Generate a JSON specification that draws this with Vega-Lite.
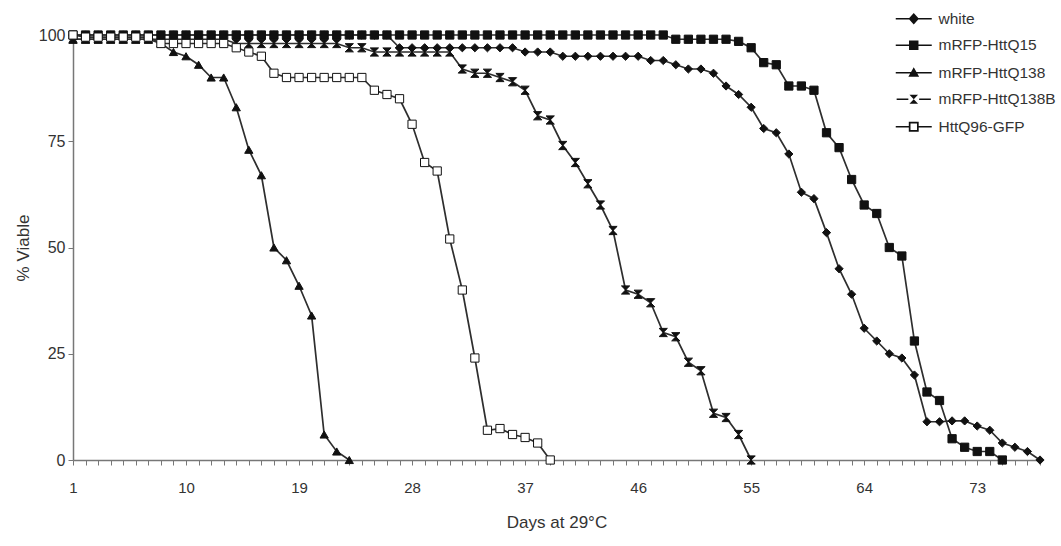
{
"$schema": "https://vega.github.io/schema/vega-lite/v6.json",
"width": 967, "height": 425,
"autosize": "none",
"padding": {"left": 73, "top": 35, "right": 21, "bottom": 86},
"background": "white",
"config": {"view": {"stroke": null}, "font": "Liberation Sans"},
"data": {"values": [
{"s":"white","d":1,"v":100},{"s":"white","d":2,"v":100},{"s":"white","d":3,"v":100},{"s":"white","d":4,"v":100},{"s":"white","d":5,"v":100},{"s":"white","d":6,"v":100},{"s":"white","d":7,"v":100},{"s":"white","d":8,"v":100},{"s":"white","d":9,"v":100},{"s":"white","d":10,"v":100},{"s":"white","d":11,"v":100},{"s":"white","d":12,"v":100},{"s":"white","d":13,"v":100},{"s":"white","d":14,"v":100},{"s":"white","d":15,"v":100},{"s":"white","d":16,"v":100},{"s":"white","d":17,"v":100},{"s":"white","d":18,"v":100},{"s":"white","d":19,"v":100},{"s":"white","d":20,"v":100},{"s":"white","d":21,"v":100},{"s":"white","d":22,"v":100},{"s":"white","d":23,"v":100},{"s":"white","d":24,"v":100},{"s":"white","d":25,"v":100},{"s":"white","d":26,"v":100},
{"s":"white","d":27,"v":97},{"s":"white","d":28,"v":97},{"s":"white","d":29,"v":97},{"s":"white","d":30,"v":97},{"s":"white","d":31,"v":97},{"s":"white","d":32,"v":97},{"s":"white","d":33,"v":97},{"s":"white","d":34,"v":97},{"s":"white","d":35,"v":97},{"s":"white","d":36,"v":97},
{"s":"white","d":37,"v":96},{"s":"white","d":38,"v":96},{"s":"white","d":39,"v":96},
{"s":"white","d":40,"v":95},{"s":"white","d":41,"v":95},{"s":"white","d":42,"v":95},{"s":"white","d":43,"v":95},{"s":"white","d":44,"v":95},{"s":"white","d":45,"v":95},{"s":"white","d":46,"v":95},
{"s":"white","d":47,"v":94},{"s":"white","d":48,"v":94},{"s":"white","d":49,"v":93},{"s":"white","d":50,"v":92},{"s":"white","d":51,"v":92},{"s":"white","d":52,"v":91},{"s":"white","d":53,"v":88},{"s":"white","d":54,"v":86},{"s":"white","d":55,"v":83},{"s":"white","d":56,"v":78},{"s":"white","d":57,"v":77},{"s":"white","d":58,"v":72},{"s":"white","d":59,"v":63},{"s":"white","d":60,"v":61.5},{"s":"white","d":61,"v":53.5},{"s":"white","d":62,"v":45},{"s":"white","d":63,"v":39},{"s":"white","d":64,"v":31},{"s":"white","d":65,"v":28},{"s":"white","d":66,"v":25},{"s":"white","d":67,"v":24},{"s":"white","d":68,"v":20},{"s":"white","d":69,"v":9},{"s":"white","d":70,"v":9},{"s":"white","d":71,"v":9.2},{"s":"white","d":72,"v":9.2},{"s":"white","d":73,"v":8},{"s":"white","d":74,"v":7},{"s":"white","d":75,"v":4},{"s":"white","d":76,"v":3},{"s":"white","d":77,"v":2},{"s":"white","d":78,"v":0},
{"s":"mRFP-HttQ15","d":1,"v":100},{"s":"mRFP-HttQ15","d":2,"v":100},{"s":"mRFP-HttQ15","d":3,"v":100},{"s":"mRFP-HttQ15","d":4,"v":100},{"s":"mRFP-HttQ15","d":5,"v":100},{"s":"mRFP-HttQ15","d":6,"v":100},{"s":"mRFP-HttQ15","d":7,"v":100},{"s":"mRFP-HttQ15","d":8,"v":100},{"s":"mRFP-HttQ15","d":9,"v":100},{"s":"mRFP-HttQ15","d":10,"v":100},{"s":"mRFP-HttQ15","d":11,"v":100},{"s":"mRFP-HttQ15","d":12,"v":100},{"s":"mRFP-HttQ15","d":13,"v":100},{"s":"mRFP-HttQ15","d":14,"v":100},{"s":"mRFP-HttQ15","d":15,"v":100},{"s":"mRFP-HttQ15","d":16,"v":100},{"s":"mRFP-HttQ15","d":17,"v":100},{"s":"mRFP-HttQ15","d":18,"v":100},{"s":"mRFP-HttQ15","d":19,"v":100},{"s":"mRFP-HttQ15","d":20,"v":100},{"s":"mRFP-HttQ15","d":21,"v":100},{"s":"mRFP-HttQ15","d":22,"v":100},{"s":"mRFP-HttQ15","d":23,"v":100},{"s":"mRFP-HttQ15","d":24,"v":100},{"s":"mRFP-HttQ15","d":25,"v":100},{"s":"mRFP-HttQ15","d":26,"v":100},{"s":"mRFP-HttQ15","d":27,"v":100},{"s":"mRFP-HttQ15","d":28,"v":100},{"s":"mRFP-HttQ15","d":29,"v":100},{"s":"mRFP-HttQ15","d":30,"v":100},{"s":"mRFP-HttQ15","d":31,"v":100},{"s":"mRFP-HttQ15","d":32,"v":100},{"s":"mRFP-HttQ15","d":33,"v":100},{"s":"mRFP-HttQ15","d":34,"v":100},{"s":"mRFP-HttQ15","d":35,"v":100},{"s":"mRFP-HttQ15","d":36,"v":100},{"s":"mRFP-HttQ15","d":37,"v":100},{"s":"mRFP-HttQ15","d":38,"v":100},{"s":"mRFP-HttQ15","d":39,"v":100},{"s":"mRFP-HttQ15","d":40,"v":100},{"s":"mRFP-HttQ15","d":41,"v":100},{"s":"mRFP-HttQ15","d":42,"v":100},{"s":"mRFP-HttQ15","d":43,"v":100},{"s":"mRFP-HttQ15","d":44,"v":100},{"s":"mRFP-HttQ15","d":45,"v":100},{"s":"mRFP-HttQ15","d":46,"v":100},{"s":"mRFP-HttQ15","d":47,"v":100},{"s":"mRFP-HttQ15","d":48,"v":100},
{"s":"mRFP-HttQ15","d":49,"v":99},{"s":"mRFP-HttQ15","d":50,"v":99},{"s":"mRFP-HttQ15","d":51,"v":99},{"s":"mRFP-HttQ15","d":52,"v":99},{"s":"mRFP-HttQ15","d":53,"v":99},{"s":"mRFP-HttQ15","d":54,"v":98.5},{"s":"mRFP-HttQ15","d":55,"v":97},{"s":"mRFP-HttQ15","d":56,"v":93.5},{"s":"mRFP-HttQ15","d":57,"v":93},{"s":"mRFP-HttQ15","d":58,"v":88},{"s":"mRFP-HttQ15","d":59,"v":88},{"s":"mRFP-HttQ15","d":60,"v":87},{"s":"mRFP-HttQ15","d":61,"v":77},{"s":"mRFP-HttQ15","d":62,"v":73.5},{"s":"mRFP-HttQ15","d":63,"v":66},{"s":"mRFP-HttQ15","d":64,"v":60},{"s":"mRFP-HttQ15","d":65,"v":58},{"s":"mRFP-HttQ15","d":66,"v":50},{"s":"mRFP-HttQ15","d":67,"v":48},{"s":"mRFP-HttQ15","d":68,"v":28},{"s":"mRFP-HttQ15","d":69,"v":16},{"s":"mRFP-HttQ15","d":70,"v":14},{"s":"mRFP-HttQ15","d":71,"v":5},{"s":"mRFP-HttQ15","d":72,"v":3},{"s":"mRFP-HttQ15","d":73,"v":2},{"s":"mRFP-HttQ15","d":74,"v":2},{"s":"mRFP-HttQ15","d":75,"v":0},
{"s":"mRFP-HttQ138","d":1,"v":99},{"s":"mRFP-HttQ138","d":2,"v":99},{"s":"mRFP-HttQ138","d":3,"v":99},{"s":"mRFP-HttQ138","d":4,"v":99},{"s":"mRFP-HttQ138","d":5,"v":99},{"s":"mRFP-HttQ138","d":6,"v":99},{"s":"mRFP-HttQ138","d":7,"v":99},{"s":"mRFP-HttQ138","d":8,"v":98},{"s":"mRFP-HttQ138","d":9,"v":96},{"s":"mRFP-HttQ138","d":10,"v":95},{"s":"mRFP-HttQ138","d":11,"v":93},{"s":"mRFP-HttQ138","d":12,"v":90},{"s":"mRFP-HttQ138","d":13,"v":90},{"s":"mRFP-HttQ138","d":14,"v":83},{"s":"mRFP-HttQ138","d":15,"v":73},{"s":"mRFP-HttQ138","d":16,"v":67},{"s":"mRFP-HttQ138","d":17,"v":50},{"s":"mRFP-HttQ138","d":18,"v":47},{"s":"mRFP-HttQ138","d":19,"v":41},{"s":"mRFP-HttQ138","d":20,"v":34},{"s":"mRFP-HttQ138","d":21,"v":6},{"s":"mRFP-HttQ138","d":22,"v":2},{"s":"mRFP-HttQ138","d":23,"v":0},
{"s":"mRFP-HttQ138B","d":1,"v":99},{"s":"mRFP-HttQ138B","d":2,"v":99},{"s":"mRFP-HttQ138B","d":3,"v":99},{"s":"mRFP-HttQ138B","d":4,"v":99},{"s":"mRFP-HttQ138B","d":5,"v":99},{"s":"mRFP-HttQ138B","d":6,"v":99},{"s":"mRFP-HttQ138B","d":7,"v":99},{"s":"mRFP-HttQ138B","d":8,"v":99},{"s":"mRFP-HttQ138B","d":9,"v":99},{"s":"mRFP-HttQ138B","d":10,"v":99},{"s":"mRFP-HttQ138B","d":11,"v":99},{"s":"mRFP-HttQ138B","d":12,"v":99},{"s":"mRFP-HttQ138B","d":13,"v":99},{"s":"mRFP-HttQ138B","d":14,"v":98},{"s":"mRFP-HttQ138B","d":15,"v":98},{"s":"mRFP-HttQ138B","d":16,"v":98},{"s":"mRFP-HttQ138B","d":17,"v":98},{"s":"mRFP-HttQ138B","d":18,"v":98},{"s":"mRFP-HttQ138B","d":19,"v":98},{"s":"mRFP-HttQ138B","d":20,"v":98},{"s":"mRFP-HttQ138B","d":21,"v":98},{"s":"mRFP-HttQ138B","d":22,"v":98},{"s":"mRFP-HttQ138B","d":23,"v":97},{"s":"mRFP-HttQ138B","d":24,"v":97},{"s":"mRFP-HttQ138B","d":25,"v":96},{"s":"mRFP-HttQ138B","d":26,"v":96},{"s":"mRFP-HttQ138B","d":27,"v":96},{"s":"mRFP-HttQ138B","d":28,"v":96},{"s":"mRFP-HttQ138B","d":29,"v":96},{"s":"mRFP-HttQ138B","d":30,"v":96},{"s":"mRFP-HttQ138B","d":31,"v":96},{"s":"mRFP-HttQ138B","d":32,"v":92},{"s":"mRFP-HttQ138B","d":33,"v":91},{"s":"mRFP-HttQ138B","d":34,"v":91},{"s":"mRFP-HttQ138B","d":35,"v":90},{"s":"mRFP-HttQ138B","d":36,"v":89},{"s":"mRFP-HttQ138B","d":37,"v":87},{"s":"mRFP-HttQ138B","d":38,"v":81},{"s":"mRFP-HttQ138B","d":39,"v":80},{"s":"mRFP-HttQ138B","d":40,"v":74},{"s":"mRFP-HttQ138B","d":41,"v":70},{"s":"mRFP-HttQ138B","d":42,"v":65},{"s":"mRFP-HttQ138B","d":43,"v":60},{"s":"mRFP-HttQ138B","d":44,"v":54},{"s":"mRFP-HttQ138B","d":45,"v":40},{"s":"mRFP-HttQ138B","d":46,"v":39},{"s":"mRFP-HttQ138B","d":47,"v":37},{"s":"mRFP-HttQ138B","d":48,"v":30},{"s":"mRFP-HttQ138B","d":49,"v":29},{"s":"mRFP-HttQ138B","d":50,"v":23},{"s":"mRFP-HttQ138B","d":51,"v":21},{"s":"mRFP-HttQ138B","d":52,"v":11},{"s":"mRFP-HttQ138B","d":53,"v":10},{"s":"mRFP-HttQ138B","d":54,"v":6},{"s":"mRFP-HttQ138B","d":55,"v":0},
{"s":"HttQ96-GFP","d":1,"v":100},{"s":"HttQ96-GFP","d":2,"v":99.5},{"s":"HttQ96-GFP","d":3,"v":99.5},{"s":"HttQ96-GFP","d":4,"v":99.5},{"s":"HttQ96-GFP","d":5,"v":99.5},{"s":"HttQ96-GFP","d":6,"v":99.5},{"s":"HttQ96-GFP","d":7,"v":99.5},{"s":"HttQ96-GFP","d":8,"v":98},{"s":"HttQ96-GFP","d":9,"v":98},{"s":"HttQ96-GFP","d":10,"v":98},{"s":"HttQ96-GFP","d":11,"v":98},{"s":"HttQ96-GFP","d":12,"v":98},{"s":"HttQ96-GFP","d":13,"v":98},{"s":"HttQ96-GFP","d":14,"v":97},{"s":"HttQ96-GFP","d":15,"v":96},{"s":"HttQ96-GFP","d":16,"v":95},{"s":"HttQ96-GFP","d":17,"v":91},{"s":"HttQ96-GFP","d":18,"v":90},{"s":"HttQ96-GFP","d":19,"v":90},{"s":"HttQ96-GFP","d":20,"v":90},{"s":"HttQ96-GFP","d":21,"v":90},{"s":"HttQ96-GFP","d":22,"v":90},{"s":"HttQ96-GFP","d":23,"v":90},{"s":"HttQ96-GFP","d":24,"v":90},{"s":"HttQ96-GFP","d":25,"v":87},{"s":"HttQ96-GFP","d":26,"v":86},{"s":"HttQ96-GFP","d":27,"v":85},{"s":"HttQ96-GFP","d":28,"v":79},{"s":"HttQ96-GFP","d":29,"v":70},{"s":"HttQ96-GFP","d":30,"v":68},{"s":"HttQ96-GFP","d":31,"v":52},{"s":"HttQ96-GFP","d":32,"v":40},{"s":"HttQ96-GFP","d":33,"v":24},{"s":"HttQ96-GFP","d":34,"v":7},{"s":"HttQ96-GFP","d":35,"v":7.4},{"s":"HttQ96-GFP","d":36,"v":6},{"s":"HttQ96-GFP","d":37,"v":5.3},{"s":"HttQ96-GFP","d":38,"v":4},{"s":"HttQ96-GFP","d":39,"v":0}
]},
"encoding": {
  "x": {"field": "d", "type": "quantitative", "title": "Days at 29°C",
    "scale": {"domain": [1, 78], "nice": false, "zero": false},
    "axis": {"values": [1,2,3,4,5,6,7,8,9,10,11,12,13,14,15,16,17,18,19,20,21,22,23,24,25,26,27,28,29,30,31,32,33,34,35,36,37,38,39,40,41,42,43,44,45,46,47,48,49,50,51,52,53,54,55,56,57,58,59,60,61,62,63,64,65,66,67,68,69,70,71,72,73,74,75,76,77,78],
      "format": "d", "labelExpr": "(datum.value - 1) % 9 == 0 ? datum.label : ''",
      "labelOverlap": false, "labelFlush": false, "grid": false,
      "tickSize": 5, "tickColor": "#777", "domainColor": "#777", "domainWidth": 1.5,
      "labelFontSize": 15, "labelColor": "#333", "labelPadding": 15,
      "titleFontSize": 17, "titleFontWeight": "normal", "titleColor": "#333", "titlePadding": 19}},
  "y": {"field": "v", "type": "quantitative", "title": "% Viable",
    "scale": {"domain": [0, 100], "nice": false},
    "axis": {"values": [0, 25, 50, 75, 100], "grid": false,
      "tickSize": 5, "tickColor": "#777", "domainColor": "#777", "domainWidth": 1.5,
      "labelFontSize": 16, "labelColor": "#333", "labelPadding": 3,
      "titleFontSize": 17, "titleFontWeight": "normal", "titleColor": "#333", "titlePadding": 6}}
},
"resolve": {"scale": {"shape": "independent"}, "legend": {"shape": "independent"}},
"layer": [
  {"mark": {"type": "line", "color": "#2e2e2e", "strokeWidth": 1.7},
   "encoding": {"detail": {"field": "s"}}},
  {"mark": {"type": "point", "filled": true, "size": 68, "stroke": "#111", "strokeWidth": 1, "opacity": 1},
   "encoding": {
     "shape": {"field": "s", "type": "nominal", "legend": null,
       "scale": {"domain": ["white", "mRFP-HttQ15", "mRFP-HttQ138", "mRFP-HttQ138B", "HttQ96-GFP"],
                 "range": ["diamond", "square", "triangle-up", "M-1,-1L1,-1L-1,1L1,1Z", "square"]}},
     "fill": {"field": "s", "type": "nominal", "legend": null,
       "scale": {"domain": ["white", "mRFP-HttQ15", "mRFP-HttQ138", "mRFP-HttQ138B", "HttQ96-GFP"],
                 "range": ["#111", "#111", "#111", "#111", "white"]}}
   }},
  {"transform": [{"filter": "datum.d < 0"}],
   "mark": {"type": "point", "filled": true, "color": "#111", "opacity": 1},
   "encoding": {
     "shape": {"field": "s", "type": "nominal",
       "scale": {"domain": ["white", "mRFP-HttQ15", "mRFP-HttQ138", "mRFP-HttQ138B", "HttQ96-GFP"],
                 "range": [
                   "M-4,-0.18L4,-0.18L4,0.18L-4,0.18Z M0,-1.3L1.15,0L0,1.3L-1.15,0Z",
                   "M-4,-0.18L4,-0.18L4,0.18L-4,0.18Z M-1.05,-1.05L1.05,-1.05L1.05,1.05L-1.05,1.05Z",
                   "M-4,-0.18L4,-0.18L4,0.18L-4,0.18Z M0,-1.25L1.2,0.9L-1.2,0.9Z",
                   "M-3.8,-0.18L-1.2,-0.18L-1.2,0.18L-3.8,0.18Z M1.2,-0.18L3.8,-0.18L3.8,0.18L1.2,0.18Z M-0.95,-1L0.95,-1L-0.95,1L0.95,1Z",
                   "M-4,-0.18L-1.1,-0.18L-1.1,0.18L-4,0.18Z M1.1,-0.18L4,-0.18L4,0.18L1.1,0.18Z M-1.1,-1.1L1.1,-1.1L1.1,1.1L-1.1,1.1Z M-0.72,-0.72L-0.72,0.72L0.72,0.72L0.72,-0.72Z"]},
       "legend": {"orient": "none", "legendX": 833, "legendY": -24, "title": null,
         "symbolSize": 81, "symbolFillColor": "#111",
         "labelFontSize": 15.5, "labelColor": "#333", "labelOffset": 17,
         "rowPadding": 9.5, "padding": 0}}
   }}
]
}
